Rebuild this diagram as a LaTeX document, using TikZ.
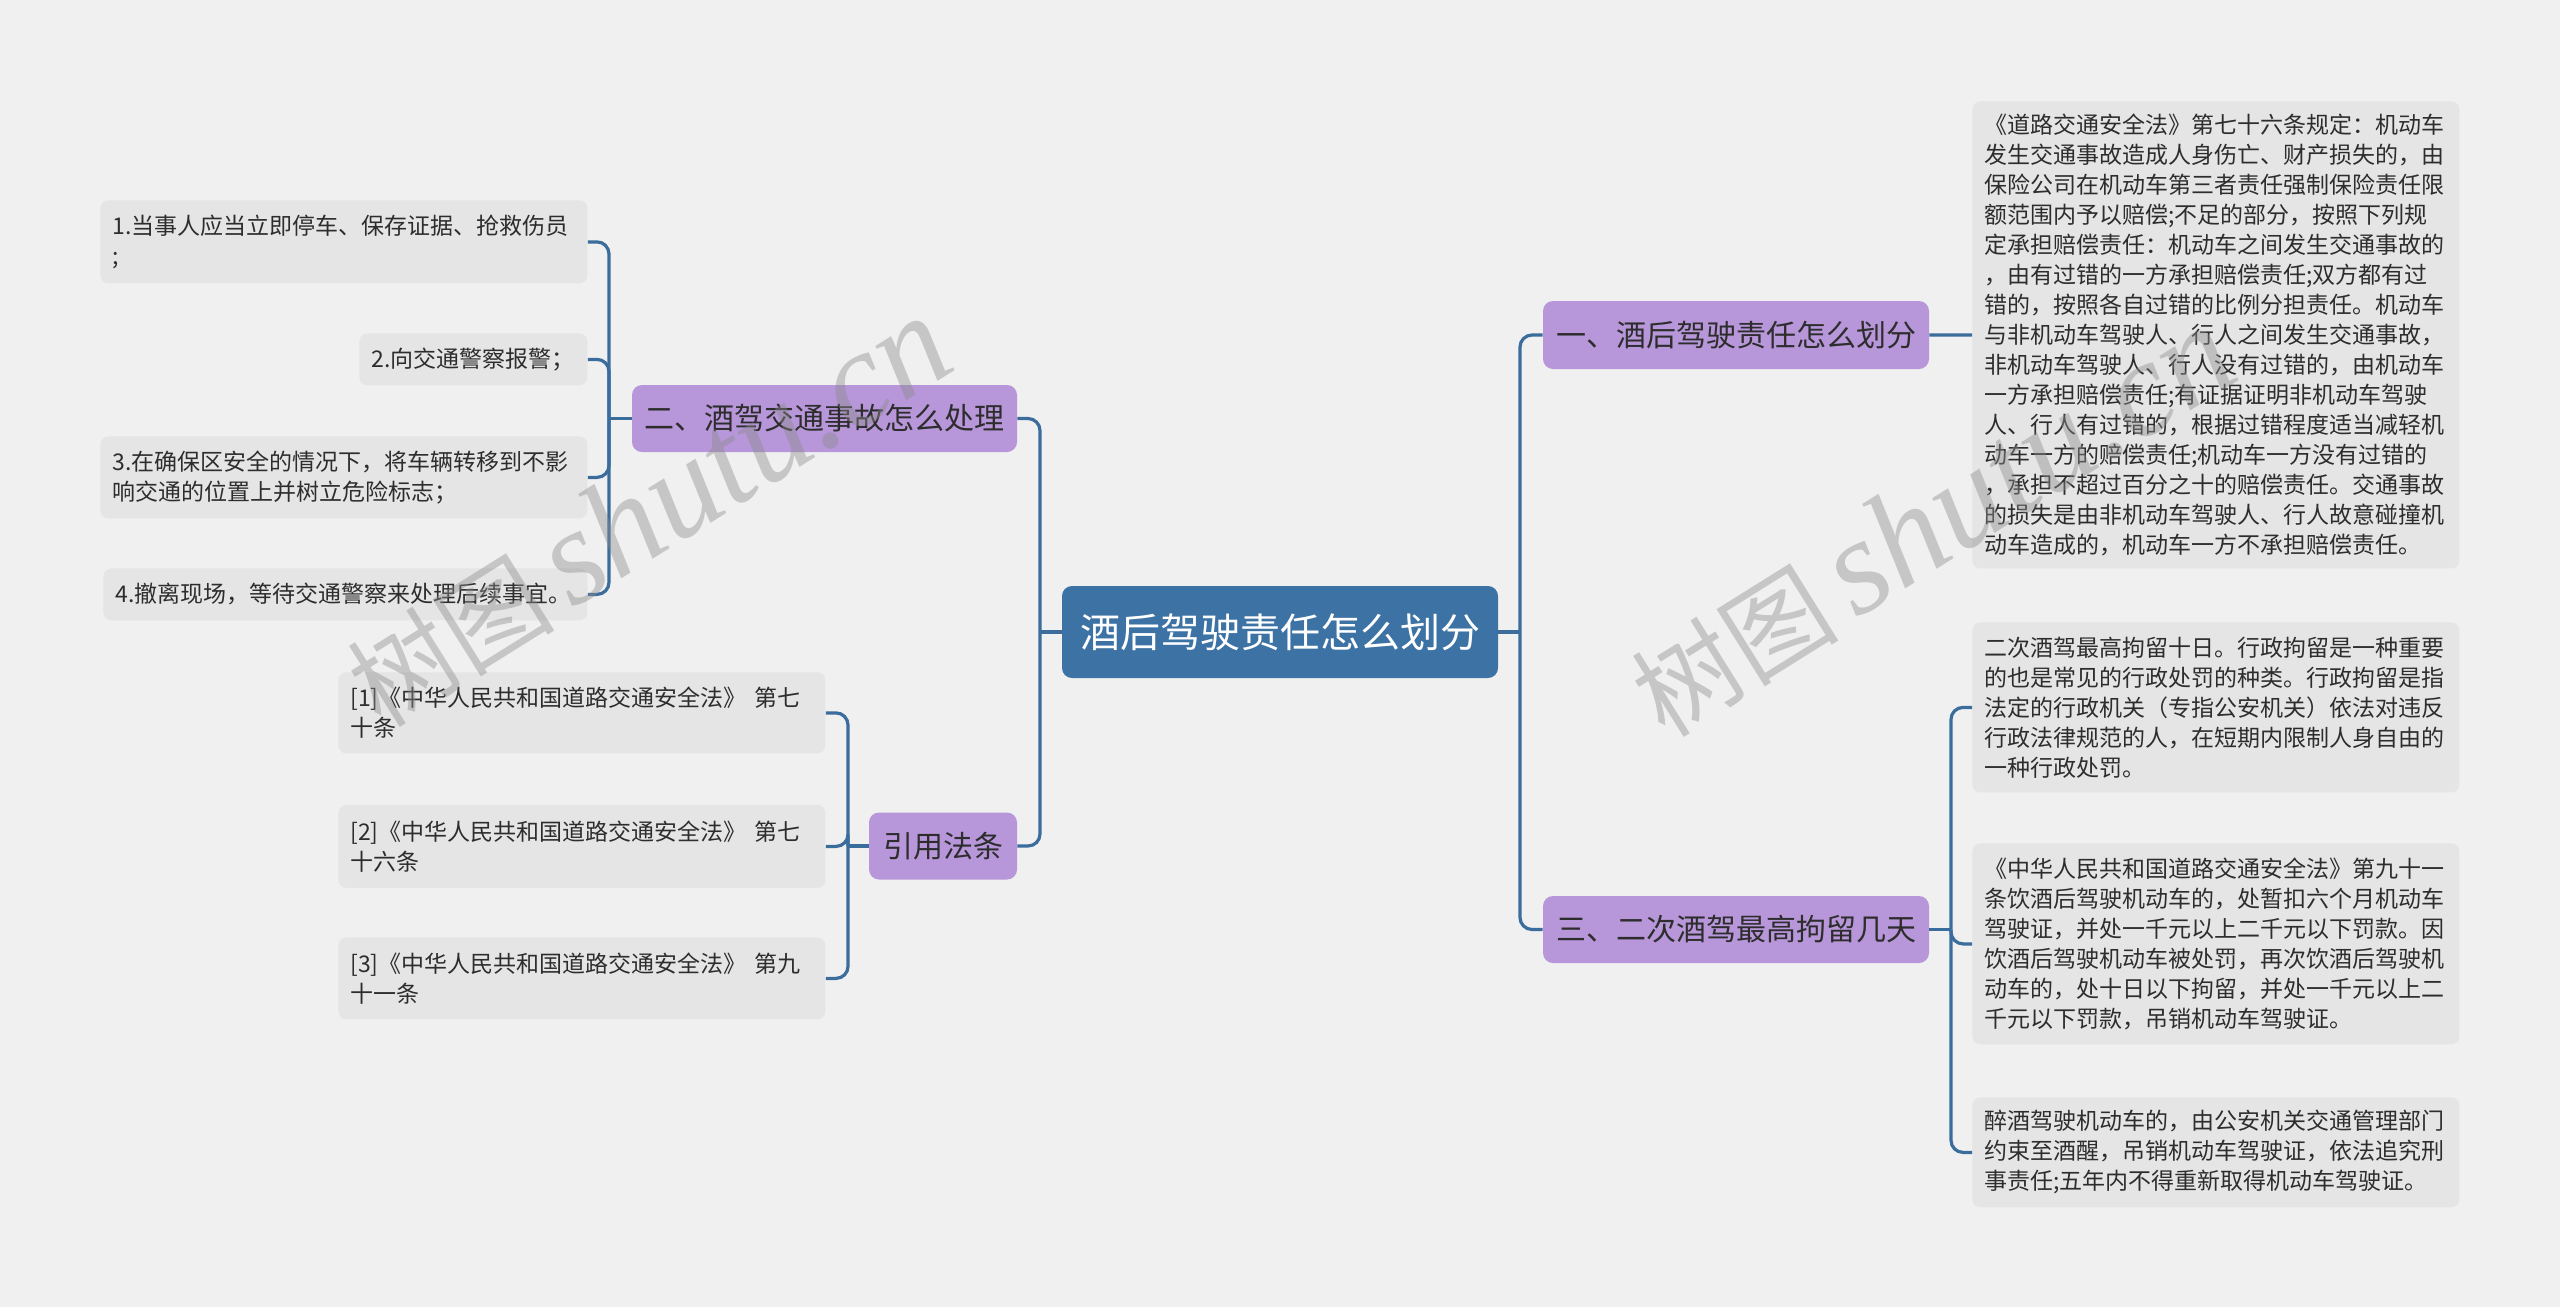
\documentclass[tikz,border=0pt]{standalone}
\usepackage{fontspec}
\setmainfont{Noto Sans CJK SC}
\newfontfamily\wmlatin{Liberation Serif}
\definecolor{bg}{RGB}{240,240,240}
\definecolor{boxfill}{RGB}{229,229,229}
\definecolor{rootblue}{RGB}{61,114,164}
\definecolor{lilac}{RGB}{183,150,217}
\definecolor{linkblue}{RGB}{58,108,156}
\definecolor{ink}{RGB}{45,45,45}
\definecolor{wmgray}{RGB}{140,140,140}
\begin{document}
\begin{tikzpicture}[x=0.5pt,y=-0.5pt,
 rootbox/.style={fill=rootblue, rounded corners=5pt, text=white, font=\fontsize{20pt}{24pt}\selectfont, inner sep=0pt},
 topic/.style={fill=lilac, rounded corners=5pt, text=ink, font=\fontsize{15pt}{18pt}\selectfont, inner sep=0pt},
 leaf/.style={fill=boxfill, rounded corners=4pt, text=ink, font=\fontsize{11.5pt}{15pt}\selectfont, align=left, anchor=north west, inner xsep=6pt, inner ysep=0pt},
 link/.style={draw=linkblue, line width=1.6pt, rounded corners=6pt},
 wm/.style={text=wmgray, opacity=0.42, rotate=32, inner sep=0pt}
]
\fill[bg] (0,0) rectangle (2560,1307);

% central and topics
\node[rootbox, minimum width=218pt, minimum height=46pt] (c) at (1280,632) {酒后驾驶责任怎么划分};
\node[topic, minimum width=193pt, minimum height=34pt] (b1) at (1736,335) {一、酒后驾驶责任怎么划分};
\node[topic, minimum width=193pt, minimum height=33.5pt] (b3) at (1736,929.5) {三、二次酒驾最高拘留几天};
\node[topic, minimum width=192.5pt, minimum height=33.5pt] (b2) at (824.5,418.5) {二、酒驾交通事故怎么处理};
\node[topic, minimum width=74pt, minimum height=33.5pt] (b4) at (943,846) {引用法条};

% right leaves
\node[leaf, text width=231.5pt, minimum height=233.5pt] (r1) at (1972,101) {《道路交通安全法》第七十六条规定：机动车\\发生交通事故造成人身伤亡、财产损失的，由\\保险公司在机动车第三者责任强制保险责任限\\额范围内予以赔偿;不足的部分，按照下列规\\定承担赔偿责任：机动车之间发生交通事故的\\，由有过错的一方承担赔偿责任;双方都有过\\错的，按照各自过错的比例分担责任。机动车\\与非机动车驾驶人、行人之间发生交通事故，\\非机动车驾驶人、行人没有过错的，由机动车\\一方承担赔偿责任;有证据证明非机动车驾驶\\人、行人有过错的，根据过错程度适当减轻机\\动车一方的赔偿责任;机动车一方没有过错的\\，承担不超过百分之十的赔偿责任。交通事故\\的损失是由非机动车驾驶人、行人故意碰撞机\\动车造成的，机动车一方不承担赔偿责任。};
\node[leaf, text width=231.5pt, minimum height=85pt] (r2) at (1972,622) {二次酒驾最高拘留十日。行政拘留是一种重要\\的也是常见的行政处罚的种类。行政拘留是指\\法定的行政机关（专指公安机关）依法对违反\\行政法律规范的人，在短期内限制人身自由的\\一种行政处罚。};
\node[leaf, text width=231.5pt, minimum height=100.5pt] (r3) at (1972,843) {《中华人民共和国道路交通安全法》第九十一\\条饮酒后驾驶机动车的，处暂扣六个月机动车\\驾驶证，并处一千元以上二千元以下罚款。因\\饮酒后驾驶机动车被处罚，再次饮酒后驾驶机\\动车的，处十日以下拘留，并处一千元以上二\\千元以下罚款，吊销机动车驾驶证。};
\node[leaf, text width=231.5pt, minimum height=55pt] (r4) at (1972,1097) {醉酒驾驶机动车的，由公安机关交通管理部门\\约束至酒醒，吊销机动车驾驶证，依法追究刑\\事责任;五年内不得重新取得机动车驾驶证。};

% left leaves of branch 2
\node[leaf, text width=231.5pt, minimum height=41.5pt] (l1) at (100,200) {1.当事人应当立即停车、保存证据、抢救伤员\\;};
\node[leaf, text width=102pt, minimum height=26pt] (l2) at (359,333) {2.向交通警察报警；};
\node[leaf, text width=231.5pt, minimum height=41pt] (l3) at (100,436) {3.在确保区安全的情况下，将车辆转移到不影\\响交通的位置上并树立危险标志；};
\node[leaf, text width=230pt, minimum height=26pt] (l4) at (103,568) {4.撤离现场，等待交通警察来处理后续事宜。};

% citations
\node[leaf, text width=231.5pt, minimum height=40.5pt] (k1) at (338,672) {[1]《中华人民共和国道路交通安全法》 第七\\十条};
\node[leaf, text width=231.5pt, minimum height=41.5pt] (k2) at (338,804.5) {[2]《中华人民共和国道路交通安全法》 第七\\十六条};
\node[leaf, text width=231.5pt, minimum height=41pt] (k3) at (338,937) {[3]《中华人民共和国道路交通安全法》 第九\\十一条};

% junctions
\coordinate (jR) at (1520,632);
\coordinate (jL) at (1040,632);
\coordinate (j3) at (1951,929.5);
\coordinate (j2) at (609,418.5);
\coordinate (j4) at (848,846);

% connectors
\draw[link] (c.east) -- (jR);
\draw[link] (jR) |- (b1.west);
\draw[link] (jR) |- (b3.west);
\draw[link] (c.west) -- (jL);
\draw[link] (jL) |- (b2.east);
\draw[link] (jL) |- (b4.east);
\draw[link] (b1.east) -- (r1.west);
\draw[link] (b3.east) -- (j3);
\draw[link] (j3) |- (r2.west);
\draw[link] (j3) |- (r3.west);
\draw[link] (j3) |- (r4.west);
\draw[link] (b2.west) -- (j2);
\draw[link] (j2) |- (l1.east);
\draw[link] (j2) |- (l2.east);
\draw[link] (j2) |- (l3.east);
\draw[link] (j2) |- (l4.east);
\draw[link] (b4.west) -- (j4);
\draw[link] (j4) |- (k1.east);
\draw[link] (j4) |- (k2.east);
\draw[link] (j4) |- (k3.east);

% watermarks
\node[wm] (wm1) at (648,512) {\fontsize{52pt}{52pt}\selectfont 树图\,{\wmlatin\itshape\fontsize{68pt}{68pt}\selectfont shutu.cn}};
\node[wm] (wm2) at (1932,522) {\fontsize{52pt}{52pt}\selectfont 树图\,{\wmlatin\itshape\fontsize{68pt}{68pt}\selectfont shutu.cn}};
\end{tikzpicture}
\end{document}
